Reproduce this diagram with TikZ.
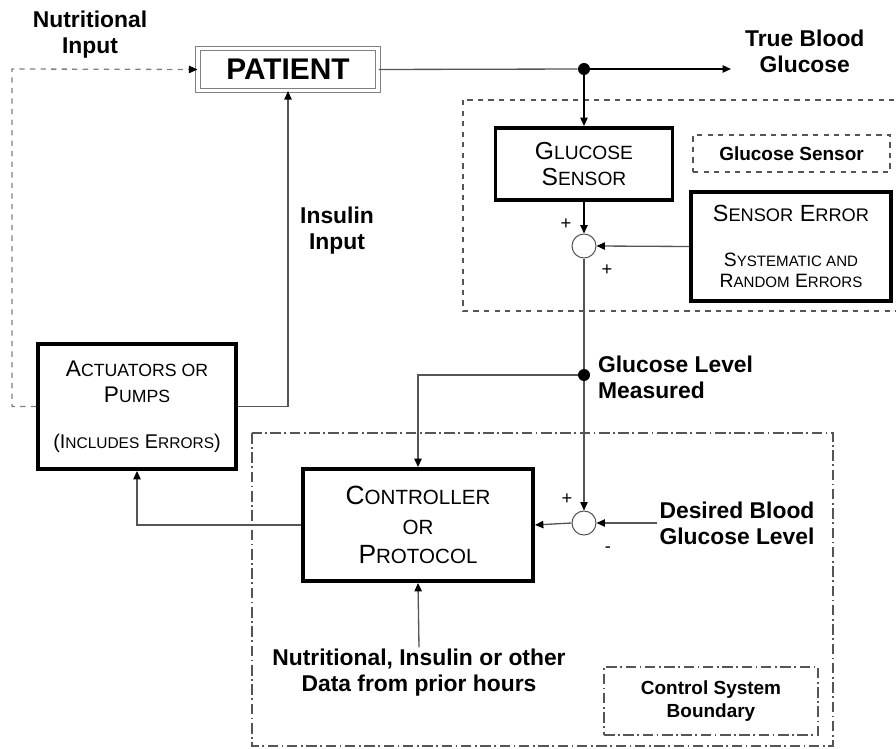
\documentclass[tikz,border=0pt]{standalone}
\usepackage{fontspec}
\setmainfont{Liberation Sans}
\usetikzlibrary{arrows.meta,positioning}
\definecolor{wire}{RGB}{85,85,85}
\newcommand{\smc}[1]{\scalebox{0.78}{#1}}
\newcommand{\fs}[2]{\fontsize{#1}{#2}\selectfont}

\begin{document}
\begin{tikzpicture}[x=0.2mm,y=-0.2mm,>={Triangle[length=4.8pt,width=4.2pt,color=black]},
    blockbox/.style={draw,line width=2.2pt,inner sep=0pt,align=center,font=\fs{14}{15}},
    notebox/.style={draw=wire,line width=0.6pt,inner sep=0pt,align=center,font=\bfseries\fs{10.8}{13}},
    sumjn/.style={draw=wire,circle,line width=0.6pt,minimum size=4.8mm,inner sep=0pt},
    splitdot/.style={fill,circle,minimum size=2.4mm,inner sep=0pt},
    lbl/.style={font=\bfseries\fs{13}{14.7},align=center,inner sep=1pt},
    sgn/.style={font=\fs{10.5}{12},inner sep=0pt},
    wireln/.style={draw=wire,line width=0.75pt},
    dashdot/.style={dash pattern=on 6pt off 2pt on 1pt off 2pt}]
  \useasboundingbox (0,0) rectangle (896,749);
  % ---------------- system boundaries ----------------
  \draw[wireln,dashed] (463,100) rectangle (900,311);
  \draw[wireln,dashdot] (252,433) rectangle (833,746);
  % ---------------- blocks ----------------
  \node[draw=gray,double,double distance=1.8pt,line width=0.7pt,minimum width=36mm,
        minimum height=8.4mm,font=\bfseries\fs{17}{20}] (patient) at (288,69.5) {PATIENT};
  \node[blockbox,minimum width=35.4mm,minimum height=14.4mm] (gsens) at (584,164)
      {G\smc{LUCOSE}\\S\smc{ENSOR}};
  \node[notebox,dashed,minimum width=39.4mm,minimum height=7.4mm] (gsnote) at (791.5,153.5)
      {Glucose Sensor};
  \node[blockbox,minimum width=40mm,minimum height=21.8mm,font=\fs{13.3}{14}] (serr) at (791,246.5)
      {S\smc{ENSOR} E\smc{RROR}\\[4mm]\fs{11}{11.5}S\smc{YSTEMATIC AND}\\[-0.8mm]
       \fs{11}{11.5}R\smc{ANDOM} E\smc{RRORS}};
  \node[blockbox,minimum width=39.6mm,minimum height=25mm,font=\fs{12.9}{15}] (actu) at (137,406.5)
      {A\smc{CTUATORS OR}\\P\smc{UMPS}\\[3.8mm]\fs{11.3}{12}(I\smc{NCLUDES} E\smc{RRORS})};
  \node[blockbox,minimum width=46mm,minimum height=22.4mm,font=\fs{15}{17}] (ctrl) at (418,525)
      {C\smc{ONTROLLER}\\\smc{OR}\\P\smc{ROTOCOL}};
  \node[notebox,dashdot,minimum width=42.8mm,minimum height=13.6mm] (csnote) at (711,701)
      {Control System\\Boundary};
  % summing junctions and split points
  \node[sumjn] (sum1) at (584,246) {};
  \node[sumjn] (sum2) at (584,523) {};
  \node[splitdot] (split1) at (584,69) {};
  \node[splitdot] (split2) at (584,375) {};
  % ---------------- labels ----------------
  \node[lbl] (nutin) at (90,35) {Nutritional\\Input};
  \node[lbl,anchor=west] (tbg) at (743,51) {True Blood\\Glucose};
  \node[lbl] (insin) at (337,231) {Insulin\\Input};
  \node[lbl,anchor=west,align=left] (gmeas) at (596,377) {Glucose Level\\Measured};
  \node[lbl] (dbg) at (737,523) {Desired Blood\\Glucose Level};
  \node[lbl] (nutdata) at (419,673) {Nutritional, Insulin or other\\Data from prior hours};
  \node[sgn] (p1) at (566,224) {+};
  \node[sgn] (p2) at (607,270) {+};
  \node[sgn] (p3) at (567,499) {+};
  \node[sgn] (m1) at (608,550) {-};
  \coordinate (nutbend) at (12,69);
  \coordinate (tbgin) at (731,69);
  % ---------------- connectors ----------------
  \draw[wireln,gray,dashed,->] (actu.west) -| (nutbend) -- (patient.west);
  \draw[wireln] (patient.east) -- (split1);
  \draw[wireln,black,->] (split1) -- (tbgin);
  \draw[wireln,black,->] (split1) -- (gsens.north);
  \draw[wireln,black,->] (gsens.south) -- (sum1.north);
  \draw[wireln,->] (serr.west) -- (sum1.east);
  \draw[wireln] (sum1.south) -- (split2);
  \draw[wireln,->] (split2) -- (sum2.north);
  \draw[wireln,->] (split2) -| (ctrl.north);
  \draw[wireln,->] (dbg.west) -- (sum2.east);
  \draw[wireln,->] (sum2.west) -- (ctrl.east);
  \draw[wireln,->] (ctrl.west) -| (actu.south);
  \draw[wireln,->] (actu.east) -| (patient.south);
  \draw[wireln,->] (nutdata.north) -- (ctrl.south);
\end{tikzpicture}
\end{document}
